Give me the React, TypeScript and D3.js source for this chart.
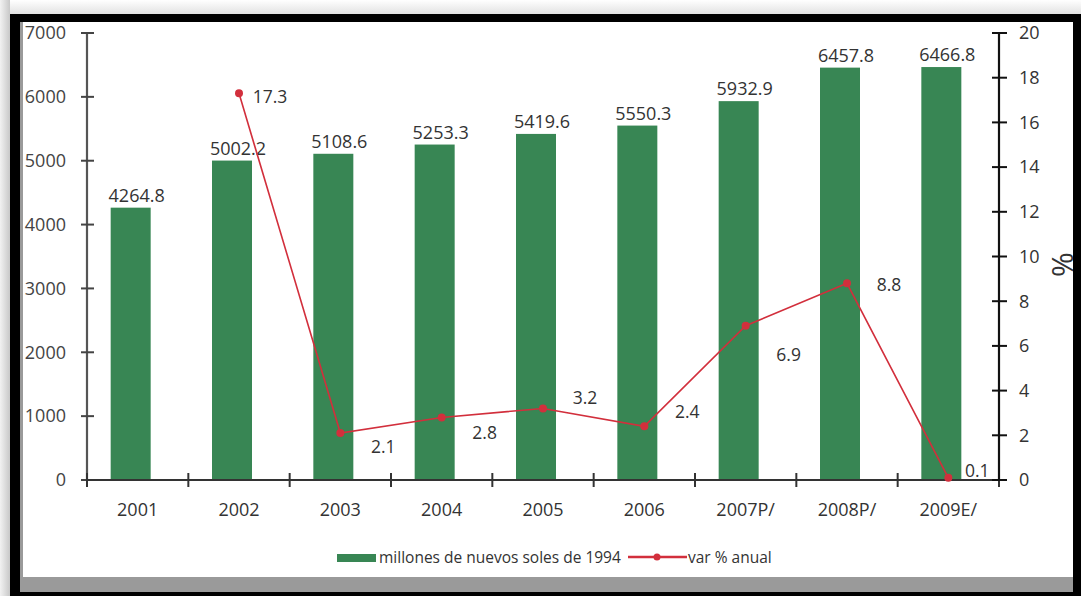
import React from "react";
import * as d3 from "d3";

const categories = ["2001", "2002", "2003", "2004", "2005", "2006", "2007P/", "2008P/", "2009E/"];
const barValues = [4264.8, 5002.2, 5108.6, 5253.3, 5419.6, 5550.3, 5932.9, 6457.8, 6466.8];
const barLabels = ["4264.8", "5002.2", "5108.6", "5253.3", "5419.6", "5550.3", "5932.9", "6457.8", "6466.8"];
const lineCategories = ["2002", "2003", "2004", "2005", "2006", "2007P/", "2008P/", "2009E/"];
const lineValues = [17.3, 2.1, 2.8, 3.2, 2.4, 6.9, 8.8, 0.1];
const lineLabels = ["17.3", "2.1", "2.8", "3.2", "2.4", "6.9", "8.8", "0.1"];
const leftTicks = [0, 1000, 2000, 3000, 4000, 5000, 6000, 7000];
const rightTicks = [0, 2, 4, 6, 8, 10, 12, 14, 16, 18, 20];
const barSeriesName = "millones de nuevos soles de 1994";
const lineSeriesName = "var % anual";
const rightAxisTitle = "%";

// label placement offsets (dx, dy) relative to each point — styling only
const lineLabelOffsets: [number, number][] = [
  [31, 4], [43, 14], [43, 15], [42, -11], [43, -14], [43, 29], [42, 2], [29, -7],
];

const W = 1081;
const H = 596;
const FONT = "'Open Sans', sans-serif";
const GREEN = "#388654";
const RED = "#d22f3c";

export default function App() {
  const x = d3.scaleBand<string>().domain(categories).range([87, 999]).padding(0);
  const yL = d3.scaleLinear().domain([0, 7000]).range([480, 33]);
  const yR = d3.scaleLinear().domain([0, 20]).range([480, 33]);
  const bw = x.bandwidth();
  const cx = (c: string) => (x(c) as number) + bw / 2;
  const barW = 40;
  const barShift = -7;

  const linePts = lineCategories.map((c, i) => [cx(c), yR(lineValues[i])] as [number, number]);
  const linePath = d3.line()(linePts) || "";

  const boundaries = categories.map((c) => x(c) as number).concat([999]);

  return (
    <div style={{ position: "absolute", left: 0, top: 0 }}>
      <svg width={W} height={H} style={{ display: "block" }} fontFamily={FONT}>
        <defs>
          <linearGradient id="lg" x1="0" x2="1" y1="0" y2="0">
            <stop offset="0" stopColor="#f2f2f2" />
            <stop offset="1" stopColor="#c8c8c8" />
          </linearGradient>
          <linearGradient id="tg" x1="0" x2="0" y1="0" y2="1">
            <stop offset="0" stopColor="#ffffff" />
            <stop offset="1" stopColor="#e2e2e2" />
          </linearGradient>
        </defs>
        {/* background / shadow */}
        <rect x={0} y={0} width={W} height={H} fill="#ffffff" />
        <rect x={0} y={0} width={W} height={14} fill="url(#tg)" />
        <rect x={0} y={0} width={10} height={H} fill="url(#lg)" />
        {/* frame */}
        <rect x={10} y={14} width={W - 10} height={H - 14} fill="#000000" />
        <rect x={20} y={22} width={1053} height={570} fill="#9a9a9a" />
        <rect x={23} y={22} width={1050} height={555} fill="#ffffff" />

        {/* bars */}
        {categories.map((c, i) => (
          <rect
            key={c}
            x={cx(c) + barShift - barW / 2}
            y={yL(barValues[i])}
            width={barW}
            height={yL(0) - yL(barValues[i])}
            fill={GREEN}
          />
        ))}
        {/* bar labels */}
        {categories.map((c, i) => (
          <text
            key={"bl" + c}
            x={cx(c) - 1}
            y={yL(barValues[i]) - 6}
            textAnchor="middle"
            fontSize={18}
            fill="#333"
          >
            {barLabels[i]}
          </text>
        ))}

        {/* left axis */}
        <line x1={87} x2={87} y1={yL(7000)} y2={yL(0)} stroke="#555" strokeWidth={2.2} />
        {leftTicks.map((t) => (
          <g key={"lt" + t}>
            <line x1={81} x2={94} y1={yL(t)} y2={yL(t)} stroke="#444" strokeWidth={2} />
            <text x={66} y={yL(t)} dy="0.35em" textAnchor="end" fontSize={18} fill="#444">
              {t}
            </text>
          </g>
        ))}

        {/* x axis */}
        <line x1={87} x2={999} y1={yL(0)} y2={yL(0)} stroke="#333" strokeWidth={2.2} />
        {boundaries.map((b, i) => (
          <line key={"xt" + i} x1={b} x2={b} y1={473} y2={487} stroke="#333" strokeWidth={2} />
        ))}
        {categories.map((c) => (
          <text key={"xl" + c} x={cx(c)} y={516} textAnchor="middle" fontSize={18} fill="#333">
            {c}
          </text>
        ))}

        {/* right axis */}
        <line x1={999} x2={999} y1={yR(20)} y2={yR(0)} stroke="#111" strokeWidth={2.2} />
        {rightTicks.map((t) => (
          <g key={"rt" + t}>
            <line x1={992} x2={1007} y1={yR(t)} y2={yR(t)} stroke="#111" strokeWidth={2} />
            <text x={1019} y={yR(t)} dy="0.35em" textAnchor="start" fontSize={18} fill="#333">
              {t}
            </text>
          </g>
        ))}
        <text
          transform={`translate(1073,${yR(10) + 8}) rotate(-90)`}
          textAnchor="middle"
          fontSize={30}
          fill="#333"
        >
          {rightAxisTitle}
        </text>

        {/* line series */}
        <path d={linePath} fill="none" stroke={RED} strokeWidth={1.6} />
        {linePts.map((p, i) => (
          <circle key={"pt" + i} cx={p[0]} cy={p[1]} r={4} fill={RED} />
        ))}
        {linePts.map((p, i) => (
          <text
            key={"ll" + i}
            x={p[0] + lineLabelOffsets[i][0]}
            y={p[1] + lineLabelOffsets[i][1]}
            dy="0.35em"
            textAnchor="middle"
            fontSize={17.5}
            fill="#333"
          >
            {lineLabels[i]}
          </text>
        ))}

        {/* legend */}
        <rect x={337} y={554} width={39} height={8} fill={GREEN} />
        <text x={379} y={558} dy="0.35em" fontSize={15.5} fill="#333">
          {barSeriesName}
        </text>
        <line x1={628} x2={687} y1={557} y2={557} stroke={RED} strokeWidth={2.5} />
        <circle cx={657} cy={557} r={3.5} fill={RED} />
        <text x={688} y={558} dy="0.35em" fontSize={15.5} fill="#333">
          {lineSeriesName}
        </text>

        {/* right border on top (clips %) */}
        <rect x={1073} y={14} width={8} height={H - 14} fill="#000000" />
      </svg>
    </div>
  );
}
